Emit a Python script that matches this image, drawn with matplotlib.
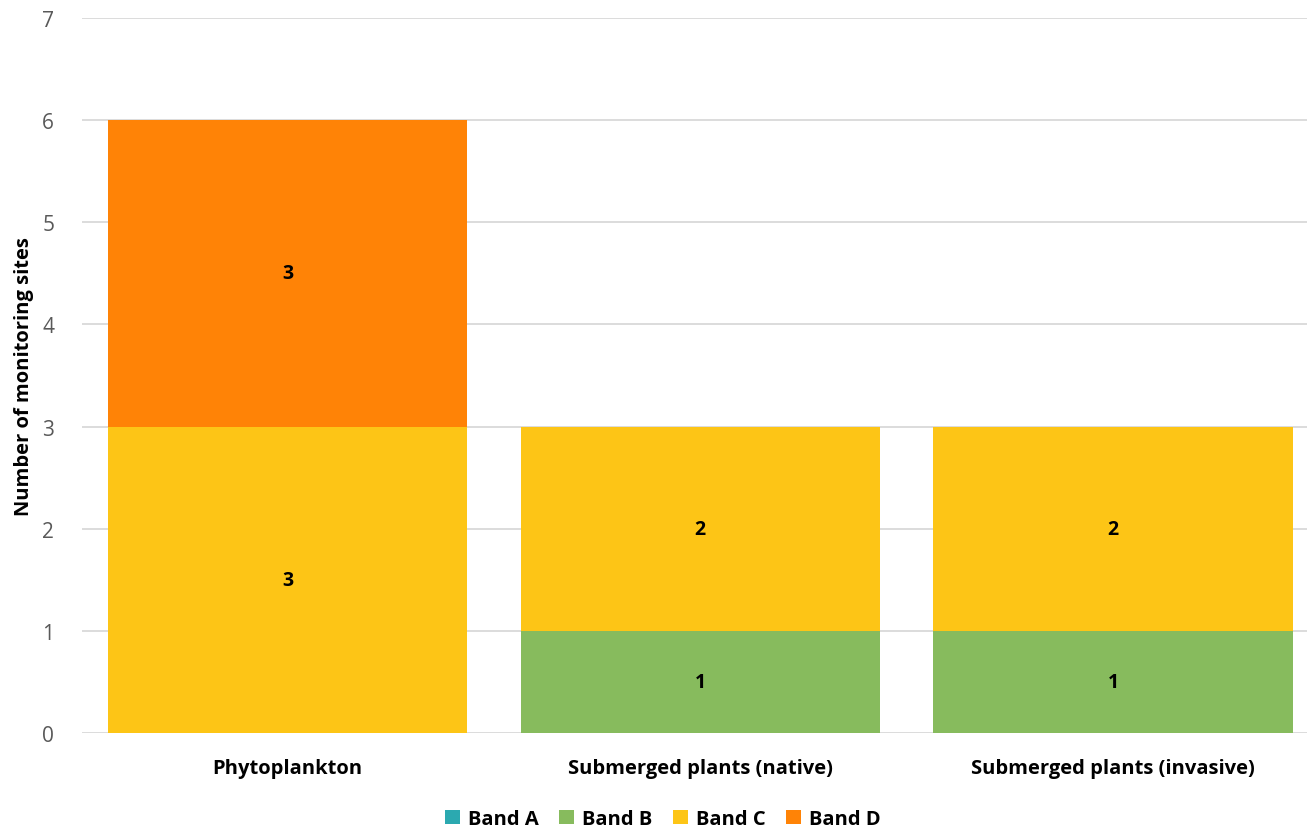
import matplotlib
matplotlib.use("Agg")
import matplotlib.pyplot as plt
import numpy as np

plt.rcParams['font.family'] = ['Open Sans', 'DejaVu Sans']

categories = ['Phytoplankton', 'Submerged plants (native)', 'Submerged plants (invasive)']
bands = ['Band A', 'Band B', 'Band C', 'Band D']
band_a = [0, 0, 0]
band_b = [0, 1, 1]
band_c = [3, 2, 2]
band_d = [3, 0, 0]
colors = ['#2BA9B0', '#87BB5D', '#FDC516', '#FF8306']

fig = plt.figure(figsize=(13.07, 8.28), dpi=100)
ax = fig.add_axes([82 / 1307, 1 - 734 / 828, 1 - 82 / 1307, (734 - 19) / 828])

x = np.arange(len(categories))
bottom = np.zeros(len(categories))
for name, vals, col in zip(bands, [band_a, band_b, band_c, band_d], colors):
    vals = np.array(vals, dtype=float)
    ax.bar(x, vals, 0.87, bottom=bottom, color=col, label=name, zorder=2)
    for xi, v, b in zip(x, vals, bottom):
        if v > 0:
            ax.text(xi, b + v / 2, f'{int(v)}', ha='center', va='center',
                    fontsize=14, fontweight='bold', color='black', zorder=3)
    bottom += vals

ax.set_xlim((82 - 287.5) / 412.75, (1307 - 287.5) / 412.75)
ax.set_ylim(0, 7)
ax.set_yticks(range(0, 8))
ax.yaxis.grid(True, color='#D9D9D9', linewidth=1.3, zorder=0)
ax.set_axisbelow(True)
for s in ax.spines.values():
    s.set_visible(False)
ax.tick_params(axis='both', length=0)
ax.tick_params(axis='y', labelsize=15, labelcolor='#595959', pad=20)
ax.set_xticks(x)
ax.set_xticklabels(categories, fontsize=14.5, fontweight='bold')
ax.tick_params(axis='x', pad=18)
ax.set_ylabel('Number of monitoring sites', fontsize=14.5, fontweight='bold', labelpad=6)

ax.legend(loc='center', bbox_to_anchor=(0.474, -86 / 715), ncol=4, frameon=False,
          prop={'weight': 'bold', 'size': 14.5}, handlelength=0.75, handleheight=0.75,
          handletextpad=0.4, columnspacing=1.0)

fig.savefig('out.png', dpi=100)
